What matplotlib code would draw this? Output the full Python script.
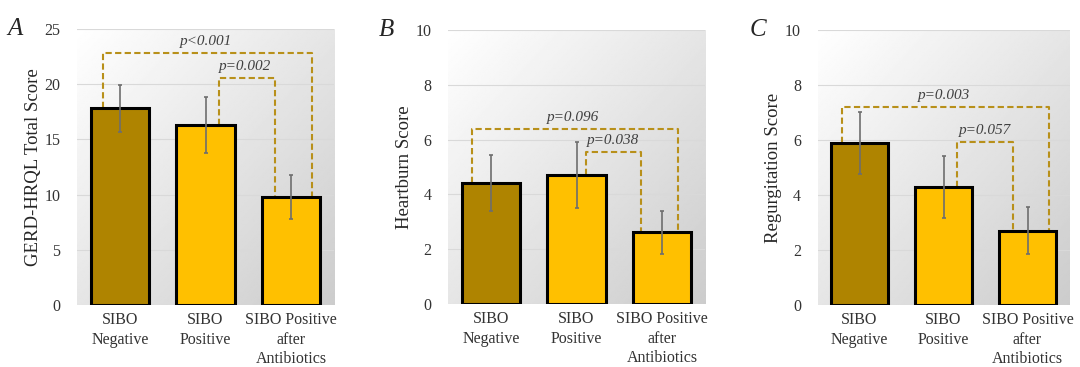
import numpy as np
import matplotlib
matplotlib.use("Agg")
import matplotlib.pyplot as plt

plt.rcParams['font.family'] = ['Liberation Serif', 'DejaVu Serif']

categories = ["SIBO\nNegative", "SIBO\nPositive", "SIBO Positive\nafter\nAntibiotics"]
bar_colors = ["#AF8400", "#FFC000", "#FFC000"]

# panel A: GERD-HRQL total score
total_mean = [17.8, 16.3, 9.8]
total_err = [2.1, 2.5, 2.0]
# panel B: heartburn
heart_mean = [4.42, 4.72, 2.62]
heart_err = [1.02, 1.2, 0.79]
# panel C: regurgitation
regurg_mean = [5.9, 4.3, 2.7]
regurg_err = [1.13, 1.13, 0.85]

# brackets: (left x, right x, height, label, label x)
brackets_a = [(-0.20, 2.24, 22.8, "p<0.001", 1.0), (1.16, 1.81, 20.6, "p=0.002", 1.46)]
brackets_b = [(-0.22, 2.18, 6.39, "p=0.096", 0.96), (1.11, 1.75, 5.54, "p=0.038", 1.43)]
brackets_c = [(-0.21, 2.26, 7.2, "p=0.003", 1.0), (1.16, 1.83, 5.94, "p=0.057", 1.49)]

panels = [
    ("A", total_mean, total_err, brackets_a, 25, 5, "GERD-HRQL Total Score",
     [0.0713, 0.169, 0.238, 0.752]),
    ("B", heart_mean, heart_err, brackets_b, 10, 2, "Heartburn Score",
     [0.4148, 0.1717, 0.238, 0.7466]),
    ("C", regurg_mean, regurg_err, brackets_c, 10, 2, "Regurgitation Score",
     [0.757, 0.169, 0.2333, 0.749]),
]

fig = plt.figure(figsize=(10.8, 3.67), dpi=100)

# diagonal gradient, white top-left to light grey bottom-right
gx, gy = np.meshgrid(np.linspace(0, 1, 200), np.linspace(0, 1, 200))
grad = 1.0 - 0.2 * (gx + gy) / 2

for letter, means, errs, brackets, ymax, step, ylabel, pos in panels:
    ax = fig.add_axes(pos)
    ax.imshow(grad, extent=[0, 1, 0, 1], transform=ax.transAxes, cmap="gray",
              vmin=0, vmax=1, aspect="auto", zorder=0, origin="upper")
    x = np.arange(len(categories))
    ax.bar(x, means, width=0.68, color=bar_colors, edgecolor="black",
           linewidth=2.2, zorder=3)
    ax.errorbar(x, means, yerr=errs, fmt="none", ecolor="#6e6e6e", elinewidth=1.2,
                capsize=1.5, capthick=1.2, zorder=4)

    for xl, xr, h, lab, lx in brackets:
        bl = means[int(round(xl))]
        br = means[int(round(xr))]
        ax.plot([xl, xl, xr, xr], [bl, h, h, br], color="#B8901A", lw=1.5,
                ls=(0, (3, 1.6)), zorder=2)
        ax.text(lx, h + ymax * 0.018, lab, ha="center", va="bottom", fontsize=11,
                style="italic", color="#404040", zorder=5)

    ax.set_xlim(-0.5, 2.5)
    ax.set_ylim(0, ymax)
    ax.set_yticks(np.arange(0, ymax + 0.01, step))
    ax.yaxis.grid(True, color="#d9d9d9", lw=0.8, zorder=1)
    ax.set_axisbelow(True)
    for s in ax.spines.values():
        s.set_visible(False)
    ax.tick_params(length=0, labelsize=11.5, pad=12, colors="#333333")
    ax.set_xticks(x)
    ax.set_xticklabels(categories, fontsize=11.5, linespacing=1.3)
    ax.tick_params(axis="x", pad=5)
    ax.set_ylabel(ylabel, fontsize=13.5, color="#262626", labelpad=2)
    ax.text(-0.27, 1.0, letter, transform=ax.transAxes, fontsize=18,
            style="italic", ha="left", va="center", color="#262626")

fig.savefig("out.png", dpi=100)
